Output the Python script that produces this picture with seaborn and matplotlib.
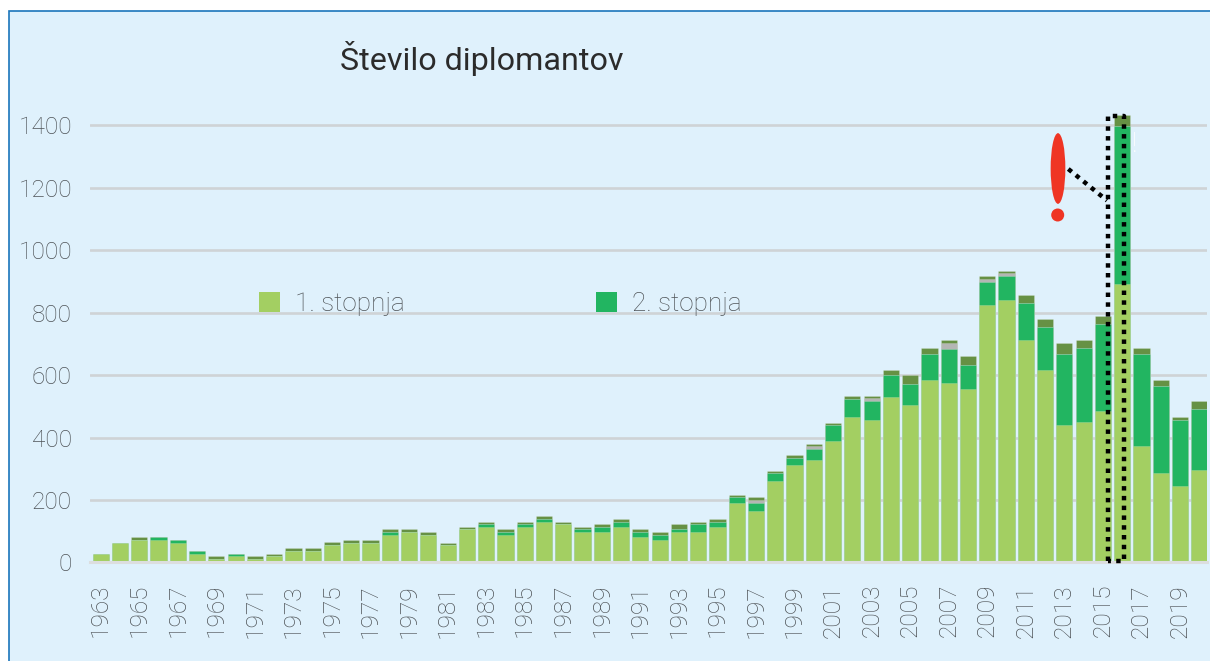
import matplotlib
matplotlib.use('Agg')
import matplotlib.pyplot as plt
import numpy as np
import pandas as pd
import seaborn as sns
from matplotlib.lines import Line2D
from matplotlib.patches import Ellipse, Rectangle

years = [str(y) for y in range(1963, 2021)]
tick_years = years[::2]
y_ticks = [0, 200, 400, 600, 800, 1000, 1200, 1400]

first_cycle = [28, 63, 72, 72, 63, 28, 12, 20, 12, 20,
               37, 37, 55, 63, 63, 89, 97, 89, 55, 106,
               114, 89, 114, 131, 123, 97, 97, 114, 80, 72,
               97, 97, 114, 191, 166, 260, 311, 328, 388, 465,
               456, 531, 503, 583, 574, 557, 824, 841, 712, 617,
               440, 449, 484, 893, 373, 286, 244, 295]
second_cycle = [0, 0, 0, 8, 9, 9, 0, 8, 0, 0,
                0, 0, 0, 0, 0, 8, 0, 0, 0, 0,
                9, 8, 9, 9, 0, 9, 17, 17, 17, 17,
                9, 26, 17, 17, 25, 25, 25, 34, 51, 60,
                60, 68, 70, 86, 110, 76, 76, 76, 120, 138,
                229, 237, 279, 506, 296, 280, 213, 196]
other_grey = [0, 0, 0, 0, 0, 0, 0, 0, 0, 0,
              0, 0, 0, 0, 0, 0, 0, 0, 0, 0,
              0, 0, 0, 0, 0, 0, 0, 0, 0, 0,
              0, 0, 0, 0, 9, 0, 0, 11, 0, 0,
              10, 0, 0, 0, 19, 0, 9, 10, 0, 0,
              0, 0, 0, 0, 0, 0, 0, 0]
other_olive = [0, 0, 8, 0, 0, 0, 8, 0, 8, 8,
               9, 9, 9, 9, 9, 9, 9, 8, 8, 8,
               8, 9, 8, 8, 8, 8, 9, 9, 9, 8,
               17, 8, 9, 9, 8, 9, 9, 7, 9, 9,
               8, 18, 27, 17, 9, 27, 9, 8, 26, 26,
               34, 26, 26, 34, 17, 17, 9, 26]

df = pd.DataFrame({'year': years, 'first': first_cycle, 'second': second_cycle,
                   'grey': other_grey, 'olive': other_olive})
df['to_second'] = df['first'] + df['second']
df['to_grey'] = df['to_second'] + df['grey']
df['to_olive'] = df['to_grey'] + df['olive']

W, H = 1210, 661
BG = '#dff1fc'
TXT = '#4e5357'

sns.set_theme(style='whitegrid', rc={
    'axes.facecolor': BG,
    'grid.color': '#cfd3d6',
    'grid.linewidth': 1.9,
    'axes.edgecolor': '#dcdedf',
    'axes.linewidth': 2.2,
})
plt.rcParams['font.family'] = ['Roboto', 'DejaVu Sans']


def fx(x):
    return x / W


def fy(y):
    return 1 - y / H


fig = plt.figure(figsize=(W / 100, H / 100), dpi=100, facecolor='white')
fig.add_artist(Rectangle((fx(8.5), -0.01), 1.0, fy(11) + 0.01,
                         transform=fig.transFigure, facecolor=BG,
                         edgecolor='#1b75bb', linewidth=1.2, zorder=-1))

# axes box: x 90..1207, zero line at y=562.4, 1400 at y=125.5
top_val = 1450
ax = fig.add_axes([fx(90), fy(562.4), (1207 - 90) / W, top_val * 0.3121 / H])
ax.set_facecolor('none')

# cumulative bars, tallest first, so each colour shows as a stack segment
for col, colour in [('to_olive', '#669144'), ('to_grey', '#b4b6b4'),
                    ('to_second', '#22b561'), ('first', '#a3cf62')]:
    sns.barplot(data=df, x='year', y=col, color=colour, saturation=1,
                width=0.84, linewidth=0.4, edgecolor=(1, 1, 1, 0.3),
                errorbar=None, ax=ax)

ax.set_xlim(-0.555, 57.4)
ax.set_ylim(0, top_val)
ax.set_yticks(y_ticks)
ax.set_xticks(range(0, len(years), 2))
ax.set_xticklabels(tick_years, rotation=90)
ax.set_xlabel('')
ax.set_ylabel('')
ax.set_axisbelow(True)
ax.xaxis.grid(False)
for side in ['top', 'left', 'right']:
    ax.spines[side].set_visible(False)
ax.tick_params(axis='y', length=0, pad=13, labelsize=17.6, labelcolor=TXT)
ax.tick_params(axis='x', length=0, pad=15.5, labelsize=17.6, labelcolor=TXT)
for lab in ax.get_xticklabels() + ax.get_yticklabels():
    lab.set_fontweight('light')

fig.text(fx(340), fy(59), 'Število diplomantov', fontsize=23.2, color='#2b2b2b',
         va='center', ha='left')

leg = fig.legend(handles=[ax.containers[3], ax.containers[2]],
                 labels=['1. stopnja', '2. stopnja'], ncol=2, frameon=False,
                 loc='center left', bbox_to_anchor=(fx(259), fy(304)),
                 fontsize=18.8, labelcolor=TXT, borderpad=0, borderaxespad=0,
                 handlelength=0.805, handleheight=0.805, handletextpad=0.575,
                 columnspacing=7.32)
for t in leg.get_texts():
    t.set_fontweight('light')
for h in leg.legend_handles:
    h.set_edgecolor('none')

# red exclamation mark, dotted call-out and box round 2016
fig.add_artist(Ellipse((fx(1058), fy(168.5)), 14.7 / W, 70.7 / H,
                       transform=fig.transFigure, color='#ef3524', lw=0))
fig.add_artist(Ellipse((fx(1057.7), fy(215)), 13 / W, 13 / H,
                       transform=fig.transFigure, color='#ef3524', lw=0))
dots = dict(color='black', linewidth=3.2, linestyle=(0, (1, 1.2)),
            dash_capstyle='butt', transform=fig.transFigure)
fig.add_artist(Line2D([fx(1068.3), fx(1107)], [fy(169), fy(200.5)], **dots))
fig.add_artist(Line2D([fx(1108), fx(1108), fx(1124.3), fx(1124.3), fx(1108)],
                      [fy(561), fy(115.7), fy(115.7), fy(561), fy(561)], **dots))
fig.text(fx(1134.3), fy(145), '!', color='white', fontsize=20,
         ha='center', va='center', fontweight='light')

fig.savefig('out.png', dpi=100)
